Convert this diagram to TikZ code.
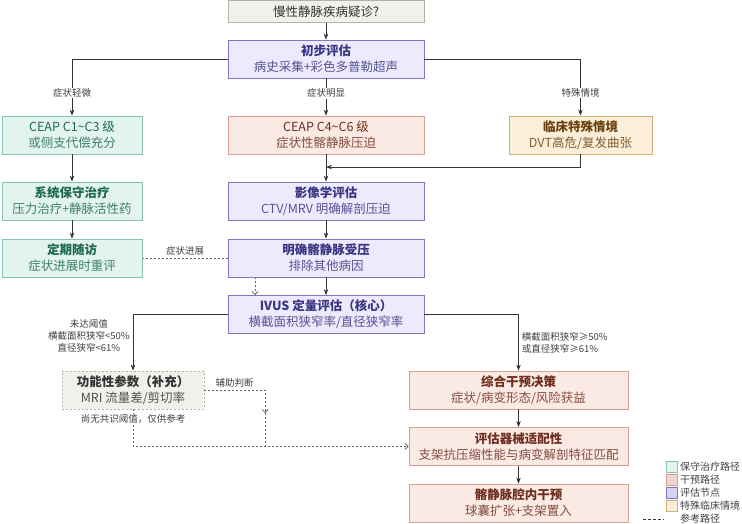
\documentclass[tikz,border=0pt]{standalone}
\usepackage{fontspec}
\setmainfont{Noto Sans CJK SC}
\usetikzlibrary{arrows.meta}
\usetikzlibrary{backgrounds}

\definecolor{conFill}{HTML}{E3F4ED}
\definecolor{conDraw}{HTML}{86C4AC}
\definecolor{conText}{HTML}{1D6A4E}
\definecolor{intFill}{HTML}{FAEAE3}
\definecolor{intDraw}{HTML}{D6A392}
\definecolor{intText}{HTML}{6E2E1F}
\definecolor{evaFill}{HTML}{ECEAFC}
\definecolor{evaDraw}{HTML}{7D77C4}
\definecolor{evaText}{HTML}{3B3582}
\definecolor{speFill}{HTML}{FCEFDA}
\definecolor{speDraw}{HTML}{D8AE76}
\definecolor{speText}{HTML}{6A410E}
\definecolor{refFill}{HTML}{F1F0EB}
\definecolor{refDraw}{HTML}{B4B2AC}
\definecolor{lineCol}{HTML}{333333}

\tikzset{
  flowbox/.style={draw,line width=0.8pt,align=center,minimum height=38pt,inner sep=2pt,
    font=\fontsize{12.5}{16}\selectfont},
  conbox/.style={flowbox,fill=conFill,draw=conDraw,text=conText},
  intbox/.style={flowbox,fill=intFill,draw=intDraw,text=intText},
  evabox/.style={flowbox,fill=evaFill,draw=evaDraw,text=evaText},
  spebox/.style={flowbox,fill=speFill,draw=speDraw,text=speText},
  refbox/.style={flowbox,fill=refFill,draw=refDraw,text=black!80,dash pattern=on 2pt off 2pt},
  topbox/.style={flowbox,fill=refFill,draw=refDraw,text=black!80,minimum height=22pt,
    font=\fontsize{12.5}{14}\selectfont},
  flow/.style={draw=lineCol,line width=0.8pt,-{Stealth[length=6pt,width=4.5pt]}},
  refline/.style={draw=black!60,line width=0.8pt,dash pattern=on 2pt off 2pt,
    -{Straight Barb[length=3pt,width=6pt]}},
  refseg/.style={refline,-},
  lbl/.style={font=\fontsize{9.5}{12}\selectfont,text=black!75,fill=white,inner sep=1pt},
  legsq/.style={draw,line width=0.7pt,minimum size=11pt,inner sep=0pt},
  legtxt/.style={anchor=west,font=\fontsize{10}{12}\selectfont,text=black!75,inner sep=1pt}
}

\newcommand{\FlowNode}[7]{% name,x,y,width,style,title,subtitle
    \node[#5,minimum width=#4pt] (#1) at (#2,#3) {{\bfseries #6}\\{\color{.!85!white}#7}}
}

\begin{document}
\begin{tikzpicture}[x=1pt,y=-1pt]
    \useasboundingbox (0,0) rectangle (742,524);

    % evaluation column
    \node[topbox,minimum width=196pt] (suspect) at (326,11.5) {慢性静脉疾病疑诊?};
    \FlowNode{init}{326}{59}{196}{evabox}{初步评估}{病史采集+彩色多普勒超声};
    \FlowNode{c13}{72}{135}{140}{conbox}{\mdseries CEAP C1\textasciitilde C3 级}{或侧支代偿充分};
    \FlowNode{c46}{326}{135}{196}{intbox}{\mdseries CEAP C4\textasciitilde C6 级}{症状性髂静脉压迫};
    \FlowNode{spec}{580.5}{135}{143}{spebox}{临床特殊情境}{DVT高危/复发曲张};
    \FlowNode{cons}{72}{201}{140}{conbox}{系统保守治疗}{压力治疗+静脉活性药};
    \FlowNode{img}{326}{201}{196}{evabox}{影像学评估}{CTV/MRV 明确解剖压迫};
    \FlowNode{follow}{72}{258}{140}{conbox}{定期随访}{症状进展时重评};
    \FlowNode{confirm}{326}{258}{196}{evabox}{明确髂静脉受压}{排除其他病因};
    \FlowNode{ivus}{326}{314.5}{196}{evabox}{IVUS 定量评估（核心）}{横截面积狭窄率/直径狭窄率};

    % lower part
    \FlowNode{func}{133}{390}{142}{refbox}{功能性参数（补充）}{MRI 流量差/剪切率};
    \FlowNode{decide}{518.5}{390}{219}{intbox}{综合干预决策}{症状/病变形态/风险获益};
    \FlowNode{fit}{518.5}{446.5}{219}{intbox}{评估器械适配性}{支架抗压缩性能与病变解剖特征匹配};
    \FlowNode{endo}{518.5}{503}{219}{intbox}{髂静脉腔内干预}{球囊扩张+支架置入};

    \coordinate (mergePt) at (326,167);
    \coordinate (ivusIn) at (255,295);
    \coordinate (auxEnd) at (265,413);
    \coordinate (auxJoin) at (265,446.5);

    % connectors
    \draw[flow] (suspect) -- (init);
    \draw[flow] (init.west) -| node[lbl,pos=0.8] {症状轻微} (c13.north);
    \draw[flow] (init) -- node[lbl,pos=0.4] {症状明显} (c46);
    \draw[flow] (init.east) -| node[lbl,pos=0.8] {特殊情境} (spec.north);
    \draw[flow] (c13) -- (cons);
    \draw[flow] (cons) -- (follow);
    \draw[flow] (c46) -- (img);
    \draw[flow] (spec.south) |- (mergePt);
    \draw[flow] (img) -- (confirm);
    \draw[flow] (confirm) -- (ivus);
    \begin{scope}[on background layer]
        \draw[refline] (follow.east) -| node[lbl,above=1pt,fill=none,pos=0.19] {症状进展} (ivusIn);
    \end{scope}
    \draw[flow] (ivus.west) -| node[lbl,fill=none,align=center,anchor=east,pos=0.69,xshift=-2pt]
        {未达阈值\\横截面积狭窄<50\%\\直径狭窄<61\%} (func.north);
    \draw[flow] (ivus.east) -| node[lbl,fill=none,align=left,anchor=west,pos=0.75,xshift=2pt]
        {横截面积狭窄≥50\%\\或直径狭窄≥61\%} (decide.north);
    \draw[flow] (decide) -- (fit);
    \draw[flow] (fit) -- (endo);
    \draw[refline] (func.east) -| node[lbl,above=1pt,fill=none,pos=0.25] {辅助判断} (auxEnd);
    \draw[refseg] (auxEnd) -- (auxJoin);
    \draw[refline] (func.south) |- node[lbl,pos=0.13] {尚无共识阈值，仅供参考} (fit.west);

    % legend
    \node[legsq,fill=conFill,draw=conDraw] (legCon) at (671.5,467) {};
    \node[legsq,fill=intFill!70!intDraw,draw=intDraw] (legInt) at (671.5,480) {};
    \node[legsq,fill=evaFill!80!evaDraw,draw=evaDraw] (legEva) at (671.5,493) {};
    \node[legsq,fill=speFill,draw=speDraw] (legSpe) at (671.5,506) {};
    \coordinate (legRefA) at (643,519);
    \coordinate (legRefB) at (664,519);
    \draw[black!80,line width=1pt,dash pattern=on 3pt off 2pt] (legRefA) -- (legRefB);
    \node[legtxt] (legConT) at (679,467) {保守治疗路径};
    \node[legtxt] (legIntT) at (679,480) {干预路径};
    \node[legtxt] (legEvaT) at (679,493) {评估节点};
    \node[legtxt] (legSpeT) at (679,506) {特殊临床情境};
    \node[legtxt] (legRefT) at (679,519) {参考路径};
\end{tikzpicture}
\end{document}
